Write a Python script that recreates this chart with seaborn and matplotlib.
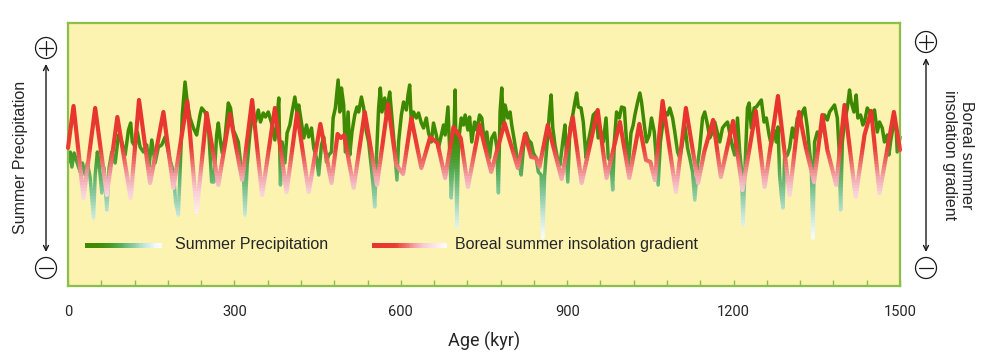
import numpy as np
import matplotlib
matplotlib.use('Agg')
import matplotlib.pyplot as plt
import pandas as pd
import seaborn as sns
from matplotlib.colors import LinearSegmentedColormap
from matplotlib.patches import Rectangle, Circle
from matplotlib.collections import LineCollection

# boreal summer insolation gradient (turning points, arbitrary units)
insol_age = [0, 10, 28, 49, 70, 89, 113, 128, 148, 172, 190, 215, 232, 250, 271, 292, 314, 332, 350, 373,
             394, 413, 434, 455, 475, 486, 492, 498, 515, 535, 557, 577, 592, 604, 619, 637, 653, 666, 680, 695,
             708, 721, 742, 763, 787, 811, 824, 835, 844, 850, 865, 890, 910, 926, 955, 971, 995, 1012, 1030, 1042,
             1050, 1058, 1072, 1096, 1114, 1136, 1147, 1163, 1177, 1199, 1216, 1240, 1256, 1280, 1301, 1318, 1330, 1345, 1360, 1369,
             1385, 1400, 1420, 1436, 1448, 1463, 1489, 1500]
insol_val = [139, 181, 89, 179, 92, 170, 89, 187, 104, 175, 99, 186, 75, 174, 102, 173, 107, 187, 92, 179,
             95, 174, 95, 163, 104, 153, 149, 152, 99, 175, 102, 183, 122, 113, 169, 119, 150, 144, 109, 160,
             149, 100, 162, 115, 164, 119, 153, 130, 129, 120, 162, 108, 170, 104, 177, 109, 165, 109, 163, 127,
             125, 107, 186, 95, 179, 104, 135, 167, 110, 166, 97, 176, 100, 191, 92, 175, 140, 105, 172, 137,
             102, 182, 90, 152, 176, 94, 175, 137]

# summer precipitation (arbitrary units)
precip_age = [1, 4, 7, 11, 16, 22, 26, 31, 35, 40, 46, 49, 53, 56, 61, 65, 70, 74, 79, 85,
              91, 97, 103, 109, 113, 116, 121, 125, 130, 136, 142, 146, 151, 157, 163, 169, 175, 179, 184, 190,
              194, 199, 203, 206, 211, 215, 220, 226, 232, 238,
              241, 247, 253, 259, 263, 268, 271, 275, 278, 283, 289, 293, 298, 302, 307, 311, 316, 319, 323, 328,
              332, 338, 343, 347, 352, 356, 361, 367, 373, 377, 380, 383, 386, 391, 395, 400, 404, 409, 413, 416,
              421, 425, 430, 434, 439, 443, 448, 452, 457, 461, 466, 470, 475, 478, 482, 487, 490, 493, 497,
              500, 505, 508, 512, 517, 521, 524, 529, 533, 538, 542, 547, 550, 553, 556, 560, 563, 566, 571, 574,
              577, 580, 584, 589, 593, 596, 601, 605, 610, 613, 616, 619, 623, 628, 632, 637, 641, 646, 650, 655,
              659, 664, 668, 673, 677, 680, 685, 689, 691, 695, 698, 701, 704, 709, 713, 716, 721, 724, 728, 733, 737,
              742, 746, 751, 755, 760, 764, 769, 773, 776, 779, 782, 785, 788, 793, 797, 800, 805, 809, 814, 817,
              821, 826, 830, 835, 839, 844, 848, 853, 856, 859, 862, 865, 868, 871, 874, 878, 883, 887, 892, 896,
              901, 905, 910, 914, 917, 920, 925, 929, 934, 938, 943, 947, 952, 956, 961, 965, 970, 974, 979, 982,
              985, 989, 994, 998,
              1003, 1007, 1010, 1015, 1019, 1022, 1027, 1031, 1034, 1039, 1043, 1048, 1052, 1057, 1061, 1064, 1068, 1072, 1076, 1081,
              1085, 1090, 1094, 1099, 1103, 1108, 1112, 1117, 1121, 1126, 1130, 1135, 1139, 1144, 1148, 1153, 1157, 1162, 1166, 1171,
              1175, 1180, 1184, 1189, 1193, 1198, 1202, 1207, 1211, 1214, 1217, 1220, 1225, 1228, 1232, 1237, 1241,
              1246, 1250, 1255, 1259, 1264, 1268, 1273, 1277, 1280, 1283, 1286, 1289, 1292, 1297, 1301, 1306, 1310, 1315, 1319, 1324,
              1328, 1333, 1337, 1340, 1343, 1346, 1351, 1355, 1360, 1364, 1369, 1373, 1378, 1382, 1387, 1390, 1393, 1396, 1400, 1405,
              1409, 1412, 1417, 1421, 1424, 1429, 1433, 1436, 1441, 1445, 1450, 1454, 1459, 1463, 1468, 1472, 1477, 1480, 1483, 1486,
              1490, 1493, 1495, 1500]
precip_val = [125, 135, 120, 134, 125, 115, 124, 112, 124, 109, 69, 112, 135, 124, 94, 119, 77, 119, 135, 124,
              152, 145, 132, 157, 164, 145, 140, 155, 140, 135, 142, 120, 147, 124, 140, 142, 150, 140, 127, 115,
              85, 72, 129, 172, 205, 185, 169, 159, 152, 172,
              179, 175, 162, 105, 105, 152, 164, 145, 134, 149, 184, 179, 157, 152, 145, 125, 119, 72, 122, 154,
              169, 165, 177, 165, 174, 170, 175, 164, 147, 169, 189, 102, 145, 124, 154, 162, 175, 190, 174, 182,
              164, 149, 162, 150, 159, 139, 129, 112, 142, 150, 125, 132, 135, 169, 179, 207, 175, 199, 182,
              135, 175, 132, 155, 172, 180, 175, 190, 179, 155, 145, 119, 102, 80, 129, 179, 199, 175, 189, 172,
              184, 195, 169, 137, 107, 145, 172, 185, 177, 192, 202, 165, 175, 169, 174, 164, 159, 169, 154, 145,
              164, 152, 139, 152, 162, 152, 180, 125, 89, 139, 197, 60, 145, 169, 162, 172, 157, 170, 145, 165, 157,
              172, 169, 142, 155, 129, 149, 154, 140, 94, 175, 199, 162, 182, 169, 175, 162, 145, 132, 122, 112,
              139, 154, 147, 144, 134, 129, 115, 112, 49, 109, 132, 152, 175, 192, 159, 142, 127, 122, 145, 162,
              105, 159, 172, 185, 194, 180, 179, 165, 129, 145, 159, 172, 175, 149, 155, 145, 169, 129, 125, 97,
              145, 175, 169, 180,
              179, 145, 119, 154, 162, 172, 185, 194, 185, 162, 145, 152, 169, 155, 125, 102, 145, 162, 175, 172,
              179, 169, 155, 135, 129, 145, 162, 139, 129, 115, 87, 122, 139, 169, 175, 162, 149, 155, 165, 154,
              145, 159, 162, 165, 154, 140, 132, 169, 135, 119, 62, 112, 179, 184, 159, 179, 180,
              184, 187, 165, 169, 152, 142, 157, 145, 160, 112, 92, 79, 129, 132, 139, 159, 149, 169, 162, 175,
              179, 159, 135, 122, 49, 145, 155, 149, 162, 172, 167, 175, 179, 182, 169, 139, 77, 145, 165, 179,
              197, 185, 175, 192, 169, 172, 162, 165, 179, 175, 169, 177, 155, 165, 159, 145, 152, 132, 145, 155,
              169, 159, 135, 150]

tick_ages = [0, 300, 600, 900, 1200, 1500]

sns.set_style('white')
plt.rcParams['font.family'] = ['Liberation Sans', 'DejaVu Sans']

green_cmap = LinearSegmentedColormap.from_list('precip', [
    (0.0, '#ffffff'), (0.107, '#eef8f6'), (0.214, '#c9e8df'), (0.357, '#8fcda8'),
    (0.5, '#5fb267'), (0.643, '#479a27'), (0.786, '#3f8c05'), (1.0, '#3d8800')])
red_cmap = LinearSegmentedColormap.from_list('insol', [
    (0.0, '#ffffff'), (0.167, '#fce6ea'), (0.292, '#f8cfd6'), (0.417, '#f3a6ad'),
    (0.542, '#ee6b66'), (0.667, '#e93d35'), (1.0, '#e8322c')])


def gradient_line(ax, df, cmap, vmin, vmax, lw, z, step=3):
    # draw the same line once per horizontal band, each clipped to its band
    edges = np.arange(vmin, vmax + step, step)
    bands = [(-100, vmin)] + list(zip(edges[:-1], edges[1:])) + [(edges[-1], 400)]
    for lo, hi in bands:
        mid = np.clip(0.5 * (lo + hi), vmin, vmax)
        c = cmap((mid - vmin) / (vmax - vmin))
        sns.lineplot(data=df, x='age', y='val', ax=ax, color=c, lw=lw,
                     estimator=None, sort=False, zorder=z)
        line = ax.lines[-1]
        line.set_solid_joinstyle('round')
        line.set_solid_capstyle('round')
        clip = Rectangle((-50, lo - 0.4), 1600, hi - lo + 0.8, transform=ax.transData)
        line.set_clip_path(clip)


fig = plt.figure(figsize=(9.88, 3.56), dpi=100)
ax = fig.add_axes([68 / 988, (356 - 286) / 356, (900 - 68) / 988, (286 - 23) / 356])
ax.set_facecolor('#fcf3b0')

precip = pd.DataFrame({'age': precip_age, 'val': precip_val})
insol = pd.DataFrame({'age': insol_age, 'val': insol_val})

gradient_line(ax, precip, green_cmap, 40, 180, 2.5, 2)
gradient_line(ax, insol, red_cmap, 60, 180, 3.0, 3)

ax.set_xlim(0, 1500)
ax.set_ylim(1, 264)
ax.set_yticks([])
ax.set_ylabel('')
ax.set_xticks(tick_ages)
ax.set_xticks(np.arange(0, 1501, 60), minor=True)
ax.tick_params(axis='x', which='both', bottom=True, direction='in', color='#8cbf4a',
               length=4, width=1, pad=14)
for lab in ax.get_xticklabels():
    lab.set_fontfamily('Roboto')
    lab.set_fontsize(10.5)
ax.set_xlabel('Age (kyr)', fontsize=13, family='Roboto', labelpad=9)
for s in ax.spines.values():
    s.set_visible(True)
    s.set_color('#8cbf4a')
    s.set_linewidth(1.6)

# overlay in pixel units for the side scales and legend
ov = fig.add_axes([0, 0, 1, 1], zorder=5)
ov.set_xlim(0, 988)
ov.set_ylim(356, 0)
ov.axis('off')

ink = '#1a1a1a'


def sign(x, y, plus):
    ov.add_patch(Circle((x, y), 10.5, fill=False, lw=0.9, ec=ink))
    ov.plot([x - 7, x + 7], [y, y], color=ink, lw=0.9)
    if plus:
        ov.plot([x, x], [y - 7, y + 7], color=ink, lw=0.9)


for x, ytop in [(46, 48), (926, 42)]:
    sign(x, ytop, True)
    sign(x, 268, False)
    ov.annotate('', xy=(x, ytop + 16), xytext=(x, 252),
                arrowprops=dict(arrowstyle='<->', lw=1, color=ink, mutation_scale=9,
                                shrinkA=0, shrinkB=0))

ov.text(20, 157, 'Summer Precipitation', rotation=90, ha='center', va='center', fontsize=11.5)
ov.text(958, 155, 'Boreal summer\ninsolation gradient', rotation=-90, ha='center', va='center',
        multialignment='center', fontsize=11.5, linespacing=1.1)

# legend with gradient swatches
n = 40
for x0, x1, cmap, lw in [(85, 160, green_cmap, 2.2), (372, 445, red_cmap, 2.5)]:
    xs = np.linspace(x0, x1, n + 1)
    segs = [[(xs[i], 245), (xs[i + 1] + 0.8, 245)] for i in range(n)]
    cols = cmap(np.linspace(0.95, 0.05, n))
    ov.add_collection(LineCollection(segs, colors=cols, linewidths=lw, capstyle='butt',
                                     antialiaseds=False))
ov.text(175, 245, 'Summer Precipitation', va='center', fontsize=11.5)
ov.text(455, 245, 'Boreal summer insolation gradient', va='center', fontsize=11.5)

fig.savefig('out.png', dpi=100)
